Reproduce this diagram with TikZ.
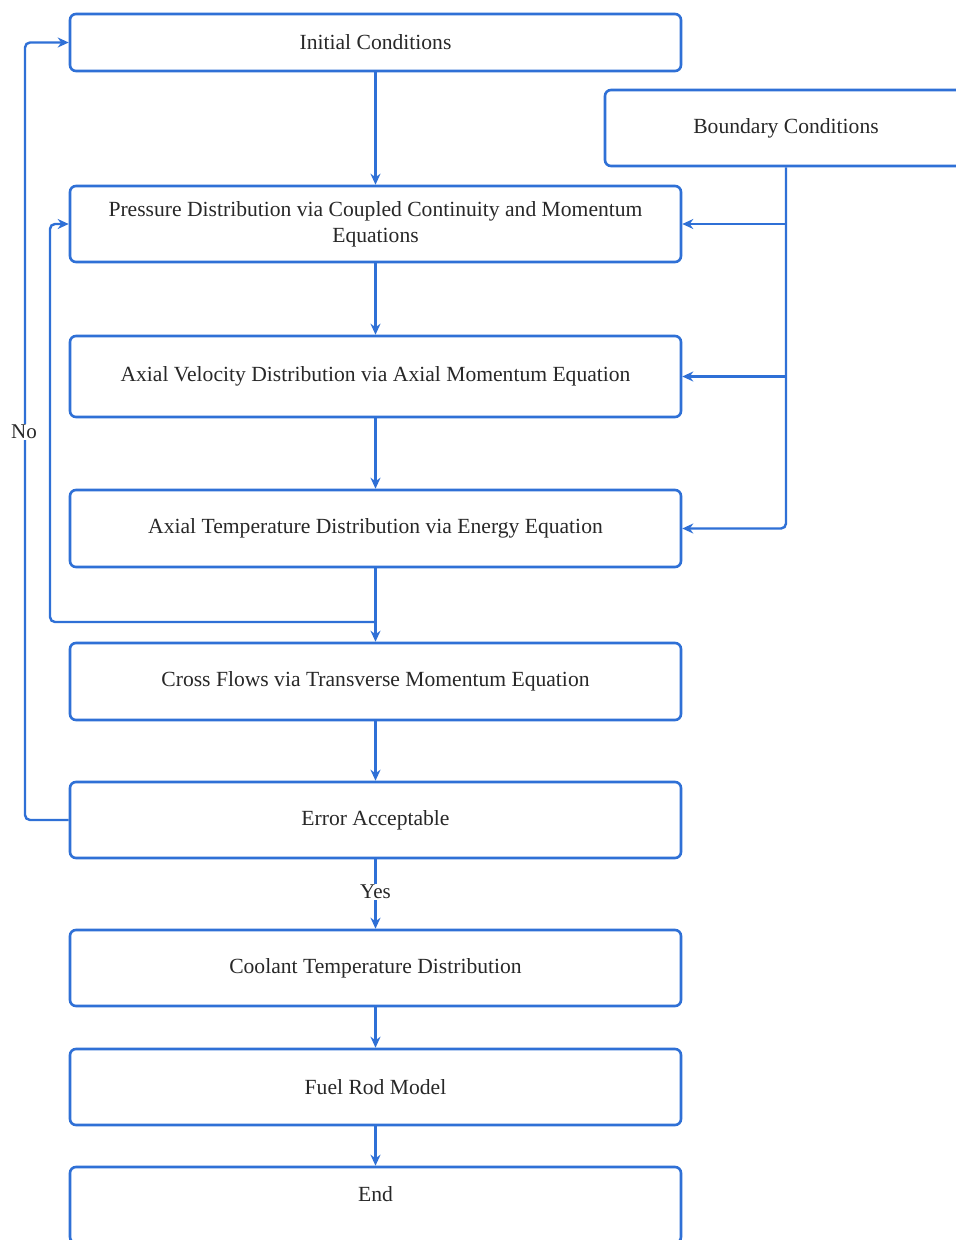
\documentclass[tikz,border=0pt]{standalone}
\usepackage{fontspec}
\setmainfont{Liberation Serif}
\usetikzlibrary{arrows.meta}
\definecolor{flowblue}{RGB}{47,112,214}
\definecolor{txt}{RGB}{40,40,40}
\tikzset{
  box/.style={draw=flowblue, line width=2.6pt, rounded corners=6pt, fill=white,
    minimum width=611pt, minimum height=76pt, inner sep=0pt, align=center,
    font=\fontsize{21.6}{26}\selectfont, text=txt},
  conn/.style={draw=flowblue, line width=2.4pt, rounded corners=5pt,
    -{Stealth[length=11pt,width=10pt]}},
  lbl/.style={font=\fontsize{21}{24}\selectfont, text=txt, fill=white, inner sep=1pt}
}
\begin{document}
\begin{tikzpicture}[x=1pt,y=-1pt]
\clip (0,0) rectangle (956,1240);
\fill[white] (0,0) rectangle (956,1240);

\node[box, minimum height=57pt] (init) at (375.5,42.5) {Initial Conditions};
\node[box, minimum width=362pt] (bc) at (786,128) {Boundary Conditions};
\node[box] (press) at (375.5,224) {Pressure Distribution via Coupled Continuity and Momentum\\Equations};
\node[box, minimum height=81pt] (vel) at (375.5,376.5) {Axial Velocity Distribution via Axial Momentum Equation};
\node[box, minimum height=77pt] (temp) at (375.5,528.5) {Axial Temperature Distribution via Energy Equation};
\node[box, minimum height=77pt] (cross) at (375.5,681.5) {Cross Flows via Transverse Momentum Equation};
\node[box] (err) at (375.5,820) {Error Acceptable};
\node[box] (cool) at (375.5,968) {Coolant Temperature Distribution};
\node[box] (fuel) at (375.5,1087) {Fuel Rod Model};
\node[box, text depth=22pt] (end) at (375.5,1205) {End};

% main chain
\draw[conn] (init) -- (press);
\draw[conn] (press) -- (vel);
\draw[conn] (vel) -- (temp);
\draw[conn] (temp) -- (cross);
\draw[conn] (cross) -- (err);
\draw[conn] (err) -- (cool);
\node[lbl] (yes) at (375.5,892) {Yes};
\draw[conn] (cool) -- (fuel);
\draw[conn] (fuel) -- (end);

% boundary conditions feed
\coordinate (bcp) at (786,224);
\coordinate (bcv) at (786,376.5);
\draw[conn] (bc.south -| 786,0) |- (temp.east);
\draw[conn] (bcp) -- (press.east);
\draw[conn] (bcv) -- (vel.east);

% inner loop back to pressure
\coordinate (jn) at (375.5,622);
\draw[conn] (jn) -- (50,622) -- (50,224) -- (press.west);

% No loop
\draw[conn] (err.west) -- (25,820) -- (25,42.5) -- (init.west);
\node[lbl] (no) at (24,432) {No};
\end{tikzpicture}
\end{document}
